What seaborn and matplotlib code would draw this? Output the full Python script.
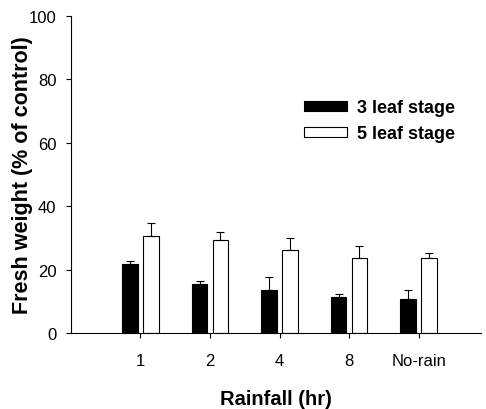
import matplotlib
matplotlib.use('Agg')
import numpy as np
import pandas as pd
import seaborn as sns
import matplotlib.pyplot as plt

categories = ['1', '2', '4', '8', 'No-rain']
series = ['3 leaf stage', '5 leaf stage']
stage3 = [21.8, 15.5, 13.5, 11.5, 10.9]
stage3_err = [0.8, 1.0, 4.1, 0.7, 2.8]
stage5 = [30.7, 29.2, 26.1, 23.7, 23.7]
stage5_err = [3.9, 2.8, 3.9, 3.8, 1.6]
yticks = [0, 20, 40, 60, 80, 100]

df = pd.DataFrame({
    'Rainfall': categories * 2,
    'value': stage3 + stage5,
    'Stage': [series[0]] * len(categories) + [series[1]] * len(categories),
})

sns.set_style('ticks')
plt.rcParams['font.family'] = ['Liberation Sans', 'DejaVu Sans']
plt.rcParams['text.color'] = 'black'
plt.rcParams['axes.labelcolor'] = 'black'

fig = plt.figure(figsize=(4.86, 4.10), dpi=100)
ax = fig.add_axes([0.146, 0.185, 0.844, 0.774])

sns.barplot(data=df, x='Rainfall', y='value', hue='Stage', order=categories,
            hue_order=series, palette=['black', 'white'], width=0.6, gap=0.25,
            edgecolor='black', linewidth=0.8, errorbar=None, ax=ax)

for cont, vals, errs in zip(ax.containers, [stage3, stage5], [stage3_err, stage5_err]):
    xs = [b.get_x() + b.get_width() / 2 for b in cont]
    ax.errorbar(xs, vals, yerr=[np.zeros(len(errs)), errs], fmt='none',
                ecolor='black', elinewidth=0.8, capsize=3.2, capthick=0.8)

ax.set_xlim(-1.0, 4.9)
ax.set_ylim(0, 100)
ax.set_yticks(yticks)
ax.tick_params(axis='both', labelsize=12, length=3.5, width=0.8, direction='out',
               colors='black')
ax.tick_params(axis='x', pad=11)
ax.tick_params(axis='y', pad=7)
ax.set_xlabel('Rainfall (hr)', fontsize=14.5, fontweight='bold', labelpad=15)
ax.set_ylabel('Fresh weight (% of control)', fontsize=15.5, fontweight='bold', labelpad=-3)
sns.despine(ax=ax)
for s in ['left', 'bottom']:
    ax.spines[s].set_linewidth(0.8)
    ax.spines[s].set_color('black')

leg = ax.legend(loc='upper left', bbox_to_anchor=(0.567, 0.737), frameon=False,
                prop={'weight': 'bold', 'size': 13}, handlelength=2.4, handleheight=0.5,
                handletextpad=0.55, labelspacing=0.5, borderpad=0, borderaxespad=0)

fig.savefig('out.png', dpi=100)
